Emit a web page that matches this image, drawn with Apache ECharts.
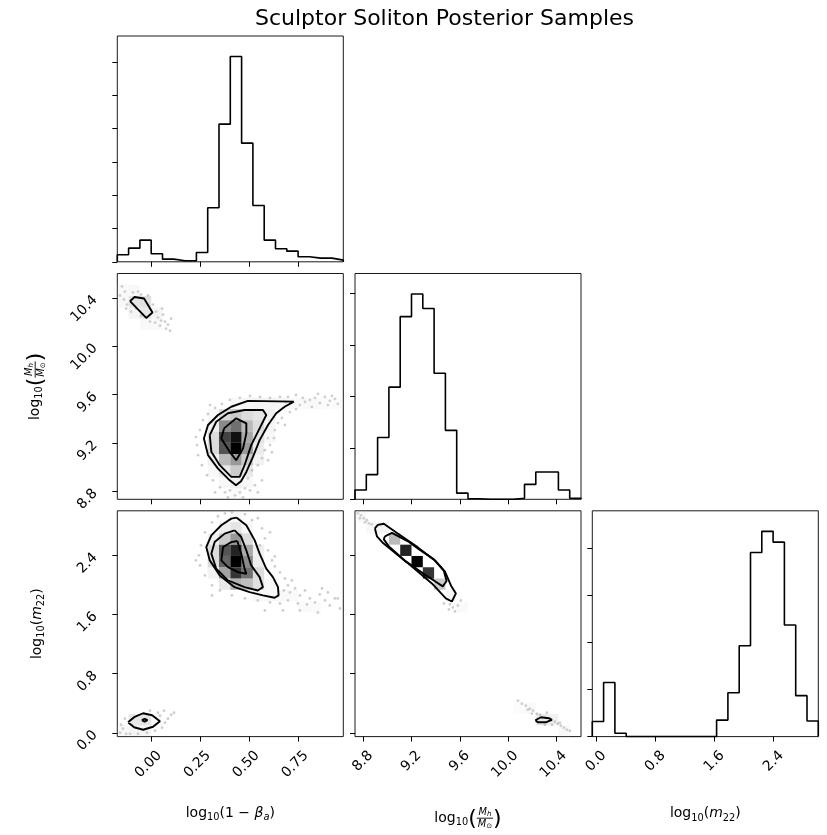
<!DOCTYPE html>
<html>
<head>
<meta charset="utf-8">
<script src="https://cdn.jsdelivr.net/npm/echarts@6/dist/echarts.min.js"></script>
<style>
  html, body { margin: 0; padding: 0; background: #fff; }
  #chart { width: 827px; height: 835px; }
</style>
</head>
<body>
<div id="chart"></div>
<script>
// ---- parameter ranges and ticks ----
const rangeBeta = [-0.176, 0.980];   // log10(1 - beta_a)
const rangeMass = [8.735, 10.601];   // log10(M_h / M_sun)
const rangeM22 = [-0.052, 3.003];    // log10(m_22)
const nBins = 20;

const ticksBeta = [0, 0.25, 0.5, 0.75];
const ticksMass = [8.8, 9.2, 9.6, 10.0, 10.4];
const ticksM22 = [0, 0.8, 1.6, 2.4];
const countStep = 100;

// ---- 1D marginal histograms (20 bins each) ----
const histBeta = [21, 41, 65, 24, 8, 3, 3, 28, 162, 413, 616, 356, 169, 65, 39, 32, 15, 11, 11, 5];
const histMass = [18, 48, 120, 218, 355, 399, 371, 245, 134, 12, 1, 0, 0, 0, 2, 29, 53, 53, 18, 2];
const histM22 = [32, 115, 7, 0, 0, 0, 0, 0, 0, 0, 0, 35, 93, 193, 391, 436, 413, 237, 87, 33];

// ---- 2D density cells: [x bin, y bin, density relative to peak] ----
const densBetaMass = [
  [10, 4, 1.0], [10, 5, 0.97], [9, 5, 0.86], [9, 4, 0.82], [10, 6, 0.75], [9, 6, 0.68],
  [11, 5, 0.58], [11, 4, 0.63], [11, 6, 0.52], [10, 3, 0.63], [9, 3, 0.52], [10, 2, 0.45],
  [11, 3, 0.45], [8, 5, 0.37], [8, 4, 0.37], [8, 6, 0.26], [9, 7, 0.37], [10, 7, 0.45],
  [11, 7, 0.37], [12, 6, 0.37], [12, 7, 0.32], [12, 5, 0.33], [12, 4, 0.28], [11, 2, 0.3],
  [9, 2, 0.3], [10, 1, 0.24], [9, 1, 0.17], [11, 1, 0.17], [8, 3, 0.24], [13, 7, 0.24],
  [13, 8, 0.2], [14, 8, 0.18], [12, 8, 0.22], [11, 8, 0.2], [10, 8, 0.15], [15, 8, 0.15],
  [16, 8, 0.15], [17, 8, 0.15], [18, 8, 0.13], [19, 8, 0.13], [13, 6, 0.2], [8, 7, 0.17],
  [12, 3, 0.22], [13, 5, 0.17], [8, 2, 0.17], [10, 0, 0.15],
  [1, 17, 0.32], [2, 17, 0.35], [2, 16, 0.3], [1, 16, 0.2], [3, 16, 0.2], [0, 17, 0.16],
  [0, 18, 0.15], [1, 18, 0.16], [3, 15, 0.15], [2, 15, 0.15]
];
const densBetaM22 = [
  [10, 15, 1.0], [10, 16, 0.93], [10, 14, 0.89], [9, 16, 0.82], [9, 15, 0.78], [10, 17, 0.63],
  [9, 17, 0.45], [11, 16, 0.58], [11, 15, 0.68], [11, 14, 0.75], [10, 13, 0.55], [9, 14, 0.6],
  [8, 15, 0.37], [8, 16, 0.37], [12, 14, 0.37], [12, 13, 0.35], [11, 13, 0.5], [12, 15, 0.26],
  [12, 12, 0.18], [13, 12, 0.18], [9, 18, 0.26], [10, 18, 0.32], [11, 17, 0.37],
  [12, 16, 0.24], [8, 17, 0.24], [8, 14, 0.22], [9, 13, 0.3], [14, 12, 0.16],
  [15, 12, 0.15], [16, 11, 0.14], [17, 11, 0.14], [13, 13, 0.18],
  [11, 18, 0.18], [10, 19, 0.16],
  [1, 1, 0.3], [2, 1, 0.32], [1, 0, 0.2], [2, 0, 0.2], [0, 0, 0.16], [3, 1, 0.16]
];
const densMassM22 = [
  [4, 16, 0.93], [5, 15, 1.0], [6, 14, 0.89], [3, 17, 0.52], [7, 13, 0.45], [2, 18, 0.22],
  [8, 12, 0.2], [1, 18, 0.16], [0, 19, 0.14], [9, 11, 0.14],
  [16, 1, 0.3], [17, 1, 0.24], [15, 2, 0.15], [18, 0, 0.16], [14, 2, 0.13]
];

// ---- credible-region contours ----
const contoursBetaMass = [
  [[0.727, 9.542], [0.492, 9.548], [0.407, 9.50], [0.339, 9.432], [0.288, 9.349], [0.267, 9.238],
   [0.288, 9.10], [0.339, 8.989], [0.399, 8.892], [0.431, 8.851], [0.457, 8.884], [0.484, 8.961],
   [0.518, 9.086], [0.552, 9.224], [0.595, 9.349], [0.637, 9.446], [0.680, 9.50]],
  [[0.297, 9.266], [0.330, 9.376], [0.39, 9.446], [0.475, 9.473], [0.569, 9.473], [0.586, 9.432],
   [0.552, 9.321], [0.509, 9.183], [0.475, 9.017], [0.45, 8.92], [0.407, 8.92], [0.348, 9.017],
   [0.305, 9.127]],
  [[0.37, 9.321], [0.432, 9.404], [0.484, 9.363], [0.484, 9.28], [0.467, 9.155], [0.432, 9.058],
   [0.399, 9.127], [0.356, 9.238]],
  [[-0.111, 10.372], [-0.088, 10.407], [-0.039, 10.394], [0.004, 10.278], [-0.028, 10.234]]
];
const contoursBetaM22 = [
  [[0.433, 2.911], [0.484, 2.807], [0.527, 2.603], [0.552, 2.423], [0.586, 2.22], [0.62, 2.106],
   [0.646, 1.970], [0.649, 1.858], [0.629, 1.826], [0.569, 1.858], [0.501, 1.902], [0.424, 1.970],
   [0.348, 2.129], [0.297, 2.332], [0.279, 2.513], [0.305, 2.671], [0.356, 2.807], [0.407, 2.897]],
  [[0.424, 2.739], [0.458, 2.648], [0.484, 2.468], [0.509, 2.264], [0.552, 2.106], [0.569, 1.970],
   [0.543, 1.925], [0.475, 1.970], [0.39, 2.061], [0.33, 2.22], [0.305, 2.423], [0.322, 2.58],
   [0.373, 2.694]],
  [[0.438, 2.594], [0.458, 2.423], [0.475, 2.22], [0.484, 2.152], [0.441, 2.174], [0.39, 2.241],
   [0.356, 2.332], [0.365, 2.513], [0.407, 2.58]],
  [[-0.121, 0.142], [-0.09, 0.21], [-0.044, 0.264], [0.002, 0.237], [0.042, 0.156], [0.007, 0.081],
   [-0.044, 0.041], [-0.09, 0.075]],
  [[-0.05, 0.17], [-0.036, 0.19], [-0.022, 0.17], [-0.036, 0.15]]
];
const contoursMassM22 = [
  [[8.899, 2.766], [8.924, 2.813], [8.973, 2.827], [9.073, 2.712], [9.254, 2.508], [9.403, 2.319],
   [9.477, 2.183], [9.527, 1.993], [9.568, 1.885], [9.535, 1.776], [9.485, 1.817], [9.37, 2.02],
   [9.163, 2.305], [8.969, 2.563], [8.916, 2.658]],
  [[8.982, 2.658], [9.04, 2.705], [9.172, 2.59], [9.271, 2.474], [9.386, 2.346], [9.469, 2.19],
   [9.491, 2.054], [9.46, 1.98], [9.386, 2.061], [9.32, 2.129], [9.155, 2.319], [9.015, 2.522],
   [8.973, 2.617]],
  [[10.224, 0.169], [10.27, 0.21], [10.336, 0.197], [10.361, 0.176], [10.311, 0.142], [10.245, 0.142]]
];

// ---- individual samples outside the contoured regions ----
const pointsBetaMass = [
  [-0.152, 10.494], [-0.137, 10.452], [-0.162, 10.419], [-0.126, 10.344], [-0.142, 10.386],
  [-0.096, 10.444], [-0.07, 10.452], [-0.055, 10.427], [-0.019, 10.419], [0.007, 10.344],
  [0.022, 10.286], [0.032, 10.237], [0.048, 10.212], [0.058, 10.261], [0.068, 10.203],
  [0.083, 10.178], [0.094, 10.128], [0.073, 10.145], [0.017, 10.195], [-0.009, 10.203],
  [-0.055, 10.253], [-0.08, 10.311], [0.042, 10.17], [0.099, 10.228], [0.053, 10.311],
  [-0.131, 10.311], [-0.106, 10.286],
  [0.247, 9.307], [0.232, 9.183], [0.237, 9.10], [0.257, 9.017], [0.283, 8.934], [0.313, 8.892],
  [0.349, 8.834], [0.375, 8.793], [0.40, 8.809], [0.426, 8.768], [0.451, 8.793], [0.477, 8.826],
  [0.503, 8.809], [0.528, 8.851], [0.492, 8.909], [0.513, 8.975], [0.543, 9.017], [0.564, 9.075],
  [0.579, 9.141], [0.605, 9.183], [0.595, 9.241], [0.630, 9.307], [0.646, 9.365], [0.666, 9.407],
  [0.707, 9.456], [0.738, 9.481], [0.758, 9.514], [0.784, 9.539], [0.809, 9.556], [0.835, 9.573],
  [0.860, 9.531], [0.886, 9.581], [0.911, 9.548], [0.937, 9.564], [0.952, 9.523], [0.819, 9.498],
  [0.773, 9.573], [0.738, 9.597], [0.697, 9.581], [0.656, 9.581], [0.605, 9.573], [0.554, 9.581],
  [0.503, 9.589], [0.451, 9.573], [0.40, 9.556], [0.359, 9.523], [0.324, 9.49], [0.288, 9.44],
  [0.262, 9.39], [0.298, 9.514], [0.564, 8.892], [0.543, 8.793], [0.467, 8.751], [0.39, 8.751],
  [0.324, 8.793], [0.595, 9.058], [0.687, 9.539], [0.85, 9.606], [0.901, 9.514], [0.922, 9.589],
  [0.226, 9.249], [0.681, 9.349], [0.625, 9.241], [0.615, 9.124]
];
const pointsBetaM22 = [
  [0.375, 2.969], [0.41, 2.983], [0.477, 2.956], [0.513, 2.875], [0.543, 2.902], [0.564, 2.766],
  [0.579, 2.63], [0.554, 2.536], [0.595, 2.468], [0.615, 2.332], [0.630, 2.251], [0.656, 2.169],
  [0.681, 2.088], [0.697, 1.993], [0.676, 1.925], [0.707, 1.898], [0.733, 1.953], [0.758, 1.858],
  [0.784, 1.925], [0.809, 1.817], [0.835, 1.763], [0.860, 1.871], [0.886, 1.79], [0.911, 1.722],
  [0.937, 1.817], [0.963, 1.681], [0.748, 1.749], [0.697, 1.79], [0.656, 1.749], [0.605, 1.763],
  [0.543, 1.79], [0.477, 1.817], [0.41, 1.858], [0.349, 1.925], [0.308, 1.993], [0.272, 2.129],
  [0.247, 2.264], [0.242, 2.40], [0.252, 2.536], [0.272, 2.712], [0.308, 2.847], [0.339, 2.929],
  [0.579, 1.654], [0.758, 1.654], [0.85, 1.627], [0.671, 1.654], [0.63, 2.386], [0.717, 2.061],
  [0.794, 1.736], [0.871, 1.953], [0.952, 1.817], [0.901, 1.898], [0.605, 2.712], [0.308, 1.858],
  [0.226, 2.332],
  [-0.162, 0.0], [-0.147, 0.054], [-0.131, -0.014], [-0.157, 0.108], [-0.111, -0.014],
  [-0.07, -0.014], [-0.024, 0.0], [0.017, 0.027], [0.053, 0.068], [0.068, 0.136], [0.083, 0.19],
  [0.099, 0.244], [0.114, 0.271], [0.042, 0.231], [-0.137, 0.19], [-0.009, 0.298], [0.032, 0.271],
  [0.063, 0.298]
];
const pointsMassM22 = [
  [8.759, 2.969], [8.784, 2.942], [8.808, 2.902], [8.833, 2.875], [8.85, 2.834], [8.874, 2.82],
  [8.775, 2.902], [8.817, 2.847],
  [9.518, 1.736], [9.543, 1.695], [9.56, 1.641], [9.584, 1.722], [9.51, 1.668], [9.609, 1.79],
  [9.469, 1.749],
  [10.08, 0.434], [10.113, 0.393], [10.146, 0.366], [10.179, 0.325], [10.204, 0.298], [10.237, 0.258],
  [10.262, 0.244], [10.385, 0.149], [10.41, 0.122], [10.435, 0.095], [10.46, 0.068], [10.484, 0.041],
  [10.509, 0.027], [10.361, 0.108], [10.303, 0.108], [10.162, 0.312], [10.427, 0.136], [10.319, 0.271],
  [10.195, 0.258]
];

// ---- helpers ----
const FAMILY = '"DejaVu Sans", sans-serif';
const grids = [
  { left: 117.3, top: 36, width: 226, height: 225.8 },   // hist beta
  { left: 117.3, top: 273.5, width: 226, height: 225.8 }, // beta vs mass
  { left: 355, top: 273.5, width: 226, height: 225.8 },   // hist mass
  { left: 117.3, top: 510.8, width: 226, height: 225.8 }, // beta vs m22
  { left: 355, top: 510.8, width: 226, height: 225.8 },   // mass vs m22
  { left: 592.3, top: 510.8, width: 226, height: 225.8 }  // hist m22
].map(g => Object.assign({
  show: true, borderColor: '#1a1a1a', borderWidth: 1, backgroundColor: 'transparent',
  containLabel: false, outerBoundsMode: 'none'
}, g));

function countTicks(maxCount) {
  const t = [];
  for (let v = 0; v <= maxCount; v += countStep) t.push(v);
  return t;
}

const tickStyle = { show: true, inside: false, length: 5, lineStyle: { color: '#000', width: 1 } };

function axisCfg(isX, gridIndex, range, ticks, digits) {
  const cfg = {
    type: 'value', gridIndex, min: range[0], max: range[1],
    position: isX ? 'bottom' : 'left',
    axisLine: { show: false, onZero: false }, splitLine: { show: false },
    axisTick: Object.assign({ customValues: ticks }, tickStyle),
    axisLabel: { show: false }
  };
  if (digits != null) {
    cfg.axisLabel = {
      show: true, customValues: ticks, rotate: 45,
      formatter: v => Number(v).toFixed(digits),
      fontFamily: FAMILY, fontSize: 14, color: '#000',
      margin: isX ? 9 : 22
    };
    if (isX) {
      cfg.axisLabel.align = 'right';
      cfg.axisLabel.verticalAlign = 'top';
      cfg.axisLabel.padding = [4, 0, 0, 0];
    }
  }
  return cfg;
}

function histSeries(counts, range, idx) {
  const w = (range[1] - range[0]) / counts.length;
  const pts = [[range[0], 0]];
  counts.forEach((c, k) => pts.push([range[0] + k * w, c]));
  pts.push([range[1], counts[counts.length - 1]]);
  pts.push([range[1], 0]);
  return {
    type: 'line', step: 'end', data: pts, xAxisIndex: idx, yAxisIndex: idx,
    showSymbol: false, silent: true, animation: false, z: 4,
    lineStyle: { color: '#000', width: 1.6 }
  };
}

function densitySeries(cells, xr, yr, idx) {
  const dx = (xr[1] - xr[0]) / nBins, dy = (yr[1] - yr[0]) / nBins;
  const data = cells.map(([i, j, f]) => [xr[0] + (i + 0.5) * dx, yr[0] + (j + 0.5) * dy, f]);
  return {
    type: 'custom', xAxisIndex: idx, yAxisIndex: idx, data, z: 3, silent: true, animation: false,
    renderItem(params, api) {
      const x = api.value(0), y = api.value(1), f = api.value(2);
      const p0 = api.coord([x - dx / 2, y + dy / 2]);
      const p1 = api.coord([x + dx / 2, y - dy / 2]);
      // black at the peak, fading to transparent white
      const t = Math.round(255 * (1 - f));
      return {
        type: 'rect',
        shape: { x: p0[0], y: p0[1], width: p1[0] - p0[0], height: p1[1] - p0[1] },
        style: { fill: `rgba(${t},${t},${t},${f})` }
      };
    }
  };
}

function contourSeries(loops, idx) {
  return loops.map(loop => ({
    type: 'line', data: loop.concat([loop[0]]), xAxisIndex: idx, yAxisIndex: idx,
    showSymbol: false, silent: true, animation: false, z: 5,
    lineStyle: { color: '#000', width: 1.9 }
  }));
}

function pointSeries(pts, idx) {
  return {
    type: 'scatter', data: pts, xAxisIndex: idx, yAxisIndex: idx, symbolSize: 2.8,
    silent: true, animation: false, z: 2, itemStyle: { color: 'rgba(0,0,0,0.24)' }
  };
}

// ---- mathtext-like axis titles built from text pieces ----
const measure = document.createElement('canvas').getContext('2d');
function widthOf(p) {
  measure.font = (p.it ? 'italic ' : '') + p.s + 'px ' + FAMILY;
  return measure.measureText(p.t).width;
}
function pieceEl(p, x, baseline) {
  const y = p.yc != null ? p.yc : baseline + (p.dy || 0) - 0.35 * p.s;
  return {
    type: 'text', x, y, silent: true,
    style: {
      text: p.t, fill: '#000', fontSize: p.s, fontFamily: FAMILY,
      fontStyle: p.it ? 'italic' : 'normal',
      align: 'left', verticalAlign: 'middle', textAlign: 'left', textVerticalAlign: 'middle'
    }
  };
}
function mathLabel(pieces, cx, cy, rotation) {
  const els = [];
  let x = 0;
  pieces.forEach(p => {
    if (p.frac) {
      const wn = p.frac.num.reduce((a, q) => a + widthOf(q), 0);
      const wd = p.frac.den.reduce((a, q) => a + widthOf(q), 0);
      const w = Math.max(wn, wd) + 2;
      let xn = x + (w - wn) / 2;
      p.frac.num.forEach(q => { els.push(pieceEl(q, xn, -7.5)); xn += widthOf(q); });
      let xd = x + (w - wd) / 2;
      p.frac.den.forEach(q => { els.push(pieceEl(q, xd, 4.5)); xd += widthOf(q); });
      els.push({ type: 'line', silent: true, shape: { x1: x, y1: -4.8, x2: x + w, y2: -4.8 },
                 style: { stroke: '#000', lineWidth: 0.9 } });
      x += w;
    } else {
      els.push(pieceEl(p, x, 0));
      x += widthOf(p);
    }
  });
  return {
    type: 'group', x: cx, y: cy, rotation: rotation || 0,
    children: [{ type: 'group', x: -x / 2, children: els }]
  };
}

const sub = (t, it) => ({ t, s: 9.8, dy: 3, it });
const main = (t, it) => ({ t, s: 14, it });
const labelBeta = [main('log'), sub('10'), main('(1 − '), main('β', true), sub('a', true), main(')')];
const labelM22 = [main('log'), sub('10'), main('('), main('m', true), sub('22'), main(')')];
const labelMass = [
  main('log'), sub('10'), { t: '(', s: 22, yc: -4 },
  { frac: {
    num: [{ t: 'M', s: 9.8, it: true }, { t: 'h', s: 7, dy: 1.5, it: true }],
    den: [{ t: 'M', s: 9.8, it: true }, { t: '⊙', s: 7, dy: 1.5 }]
  } },
  { t: ')', s: 22, yc: -4 }
];

// ---- assemble ----
const maxBeta = Math.max(...histBeta) * 1.1;
const maxMass = Math.max(...histMass) * 1.1;
const maxM22 = Math.max(...histM22) * 1.1;

const option = {
  animation: false,
  backgroundColor: '#fff',
  grid: grids,
  xAxis: [
    axisCfg(true, 0, rangeBeta, ticksBeta, null),
    axisCfg(true, 1, rangeBeta, ticksBeta, null),
    axisCfg(true, 2, rangeMass, ticksMass, null),
    axisCfg(true, 3, rangeBeta, ticksBeta, 2),
    axisCfg(true, 4, rangeMass, ticksMass, 1),
    axisCfg(true, 5, rangeM22, ticksM22, 1)
  ],
  yAxis: [
    axisCfg(false, 0, [0, maxBeta], countTicks(maxBeta), null),
    axisCfg(false, 1, rangeMass, ticksMass, 1),
    axisCfg(false, 2, [0, maxMass], countTicks(maxMass), null),
    axisCfg(false, 3, rangeM22, ticksM22, 1),
    axisCfg(false, 4, rangeM22, ticksM22, null),
    axisCfg(false, 5, [0, maxM22], countTicks(maxM22), null)
  ],
  series: [
    histSeries(histBeta, rangeBeta, 0),
    pointSeries(pointsBetaMass, 1),
    densitySeries(densBetaMass, rangeBeta, rangeMass, 1),
    ...contourSeries(contoursBetaMass, 1),
    histSeries(histMass, rangeMass, 2),
    pointSeries(pointsBetaM22, 3),
    densitySeries(densBetaM22, rangeBeta, rangeM22, 3),
    ...contourSeries(contoursBetaM22, 3),
    pointSeries(pointsMassM22, 4),
    densitySeries(densMassM22, rangeMass, rangeM22, 4),
    ...contourSeries(contoursMassM22, 4),
    histSeries(histM22, rangeM22, 5)
  ],
  graphic: { elements: [
    { type: 'text', x: 444.5, y: 19.5, silent: true,
      style: { text: 'Sculptor Soliton Posterior Samples', fill: '#000', fontSize: 22, fontFamily: FAMILY,
               align: 'center', verticalAlign: 'middle', textAlign: 'center', textVerticalAlign: 'middle' } },
    mathLabel(labelBeta, 230.3, 818, 0),
    mathLabel(labelMass, 468, 823, 0),
    mathLabel(labelM22, 705.3, 818.5, 0),
    mathLabel(labelMass, 40, 386.4, Math.PI / 2),
    mathLabel(labelM22, 42, 623.7, Math.PI / 2)
  ] }
};

const chart = echarts.init(document.getElementById('chart'), null, { renderer: 'canvas', width: 827, height: 835 });
chart.setOption(option);
</script>
</body>
</html>
